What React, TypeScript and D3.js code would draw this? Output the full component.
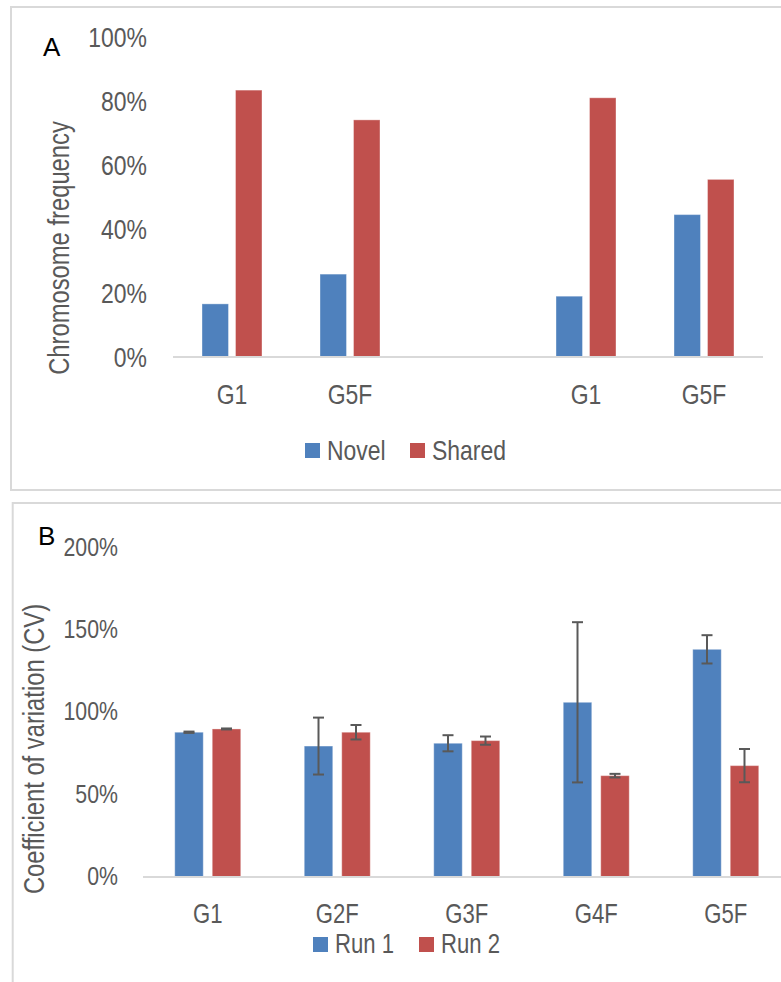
import React from "react";
import * as d3 from "d3";

// Panel A: chromosome frequency by group (blank slot separates the two sets)
const groupLabelsA = ["G1", "G5F", "", "G1", "G5F"];
const novelA: (number | null)[] = [16.6, 25.9, null, 19.0, 44.5];
const sharedA: (number | null)[] = [83.4, 74.1, null, 81.0, 55.5];
const seriesA = ["Novel", "Shared"];
const ticksA = [0, 20, 40, 60, 80, 100];

// Panel B: coefficient of variation per generation, two runs with error bars
const groupsB = ["G1", "G2F", "G3F", "G4F", "G5F"];
const run1 = [88.0, 79.6, 81.3, 106.2, 138.4];
const run1Err = [0.4, 17.3, 4.9, 48.7, 8.6];
const run2 = [90.0, 88.0, 82.9, 61.6, 67.7];
const run2Err = [0.3, 4.4, 2.5, 1.1, 10.1];
const seriesB = ["Run 1", "Run 2"];
const ticksB = [0, 50, 100, 150, 200];

const BLUE = "#4F81BD";
const RED = "#C0504D";
const TEXT = "#595959";
const GRID = "#D9D9D9";
const FONT = "'Liberation Sans', Arial, sans-serif";
const CONDENSE = 0.82;

type NProps = {
  x: number;
  y: number;
  size: number;
  anchor?: "start" | "middle" | "end";
  rotate?: boolean;
  dy?: string;
  fill?: string;
  children: React.ReactNode;
};

// Condensed label: regular sans squeezed horizontally along its reading direction
function NText({ x, y, size, anchor = "start", rotate = false, dy, fill = TEXT, children }: NProps) {
  const t = `translate(${x},${y})${rotate ? " rotate(-90)" : ""} scale(${CONDENSE},1)`;
  return (
    <text transform={t} dy={dy} textAnchor={anchor} fontFamily={FONT} fontSize={size} fill={fill}>
      {children}
    </text>
  );
}

function PanelA() {
  const x = d3.scaleBand<number>().domain(d3.range(groupLabelsA.length)).range([173, 763]);
  const inner = d3
    .scaleBand<number>()
    .domain([0, 1])
    .range([0, x.bandwidth()])
    .paddingInner(0.21)
    .paddingOuter(0.866);
  const y = d3.scaleLinear().domain([0, 100]).range([357, 37]);
  const colors = [BLUE, RED];
  const data = [novelA, sharedA];

  return (
    <g>
      <rect x={11} y={7} width={800} height={483} fill="#fff" stroke={GRID} strokeWidth={2} />
      <text x={43} y={56} fontFamily={FONT} fontSize={26} fill="#000">A</text>
      {ticksA.map((t) => (
        <NText key={t} x={147} y={y(t)} dy="0.35em" anchor="end" size={28}>
          {t}%
        </NText>
      ))}
      <NText x={69} y={248} rotate anchor="middle" size={29}>
        Chromosome frequency
      </NText>
      {data.map((vals, s) =>
        vals.map((v, i) =>
          v == null ? null : (
            <rect
              key={`${s}-${i}`}
              x={(x(i) as number) + (inner(s) as number)}
              y={y(v)}
              width={inner.bandwidth()}
              height={y(0) - y(v)}
              fill={colors[s]}
              stroke="#fff"
              strokeOpacity={0.35}
              strokeWidth={1}
            />
          )
        )
      )}
      <line x1={173} x2={763} y1={y(0)} y2={y(0)} stroke={GRID} strokeWidth={2} />
      {groupLabelsA.map((g, i) => (
        <NText key={i} x={(x(i) as number) + x.bandwidth() / 2} y={404} anchor="middle" size={28}>
          {g}
        </NText>
      ))}
      {seriesA.map((s, k) => {
        const lx = [305, 410][k];
        return (
          <g key={s}>
            <rect x={lx} y={443} width={15} height={15} fill={colors[k]} />
            <NText x={lx + 22} y={460} size={28}>
              {s}
            </NText>
          </g>
        );
      })}
    </g>
  );
}

function PanelB() {
  const x = d3.scaleBand<number>().domain(d3.range(groupsB.length)).range([143, 790.5]);
  const inner = d3
    .scaleBand<number>()
    .domain([0, 1])
    .range([0, x.bandwidth()])
    .paddingInner(0.24)
    .paddingOuter(0.847);
  const y = d3.scaleLinear().domain([0, 200]).range([877, 548]);
  const colors = [BLUE, RED];
  const vals = [run1, run2];
  const errs = [run1Err, run2Err];
  const cap = 5.5;

  return (
    <g>
      <rect x={12.7} y={503} width={800} height={520} fill="#fff" stroke={GRID} strokeWidth={2} />
      <text x={38} y={545} fontFamily={FONT} fontSize={26} fill="#000">B</text>
      {ticksB.map((t) => (
        <NText key={t} x={118} y={y(t)} dy="0.3em" anchor="end" size={26}>
          {t}%
        </NText>
      ))}
      <NText x={44} y={749} rotate anchor="middle" size={29}>
        Coefficient of variation (CV)
      </NText>
      {vals.map((arr, s) =>
        arr.map((v, i) => (
          <rect
            key={`${s}-${i}`}
            x={(x(i) as number) + (inner(s) as number)}
            y={y(v)}
            width={inner.bandwidth()}
            height={y(0) - y(v)}
            fill={colors[s]}
            stroke="#fff"
            strokeOpacity={0.35}
            strokeWidth={1}
          />
        ))
      )}
      <line x1={143} x2={790} y1={y(0)} y2={y(0)} stroke={GRID} strokeWidth={2} />
      {vals.map((arr, s) =>
        arr.map((v, i) => {
          const cx = (x(i) as number) + (inner(s) as number) + inner.bandwidth() / 2;
          const hi = y(v + errs[s][i]);
          const lo = y(v - errs[s][i]);
          return (
            <g key={`e${s}-${i}`} stroke="#595959" strokeWidth={2}>
              <line x1={cx} x2={cx} y1={hi} y2={lo} />
              <line x1={cx - cap} x2={cx + cap} y1={hi} y2={hi} />
              <line x1={cx - cap} x2={cx + cap} y1={lo} y2={lo} />
            </g>
          );
        })
      )}
      {groupsB.map((g, i) => (
        <NText key={g} x={(x(i) as number) + x.bandwidth() / 2} y={923} anchor="middle" size={27}>
          {g}
        </NText>
      ))}
      {seriesB.map((s, k) => {
        const lx = [313, 419][k];
        return (
          <g key={s}>
            <rect x={lx} y={937} width={15} height={15} fill={colors[k]} />
            <NText x={lx + 22} y={953} size={27}>
              {s}
            </NText>
          </g>
        );
      })}
    </g>
  );
}

export default function App() {
  return (
    <svg
      width={781}
      height={982}
      viewBox="0 0 781 982"
      style={{ position: "absolute", left: 0, top: 0, background: "#fff" }}
    >
      <rect width={781} height={982} fill="#fff" />
      <PanelA />
      <PanelB />
    </svg>
  );
}
